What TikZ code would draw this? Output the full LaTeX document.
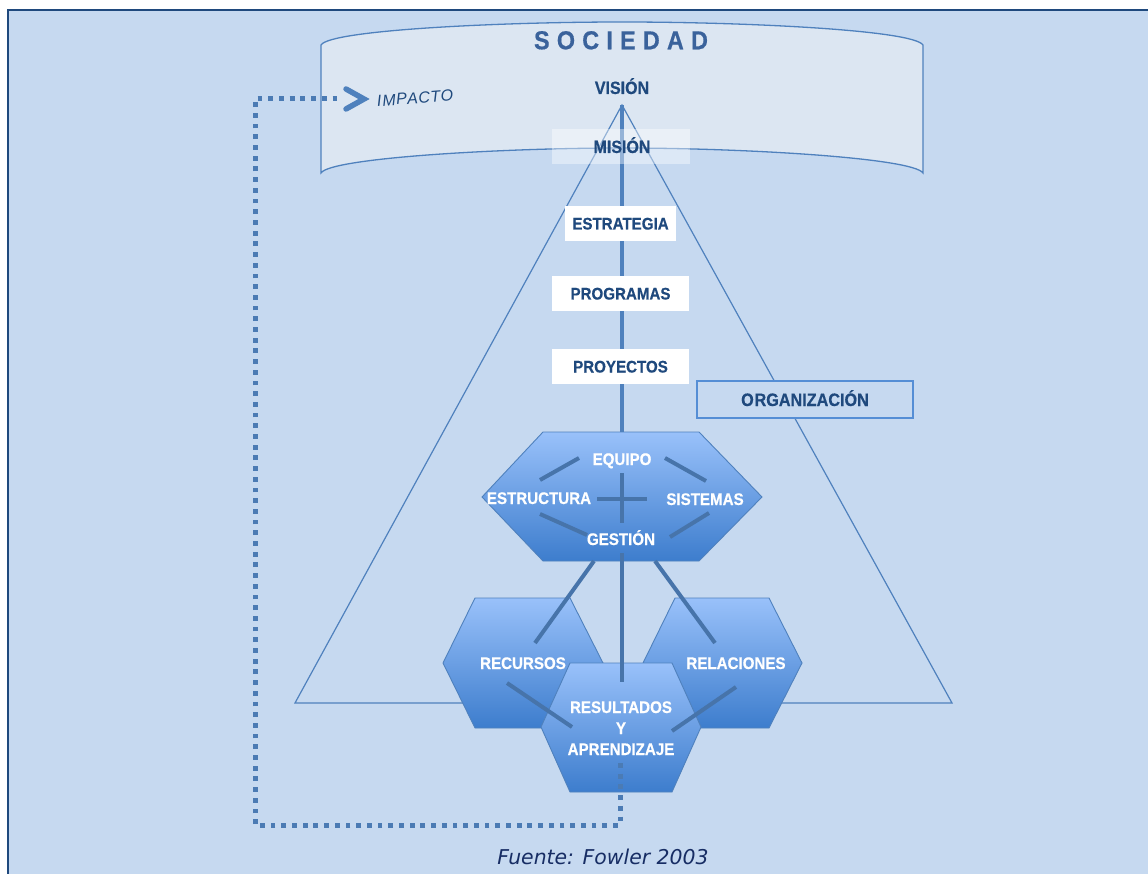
\documentclass[tikz,border=0pt]{standalone}
\usepackage{fontspec}
\setmainfont{Liberation Sans}
\newfontfamily\labfont[FakeStretch=0.9, BoldFeatures={FakeBold=0.5}]{Liberation Sans}
\newfontfamily\captfont{DejaVu Sans}
\definecolor{bgblue}{RGB}{198,217,240}
\definecolor{framec}{RGB}{31,73,125}
\definecolor{bannerc}{RGB}{220,230,242}
\definecolor{mblue}{RGB}{79,129,189}
\definecolor{navyc}{RGB}{31,73,125}
\definecolor{socc}{RGB}{58,98,155}
\definecolor{hextop}{RGB}{153,193,250}
\definecolor{hexbot}{RGB}{61,125,205}
\definecolor{orgline}{RGB}{85,142,213}
\definecolor{capc}{RGB}{23,45,100}
\newcommand\sockern{\kern7.2pt}
\tikzset{
  lbl/.style={font=\labfont\bfseries\fontsize{16.8}{18}\selectfont, text=navyc, inner sep=0pt, text height=12pt, text depth=0pt},
  wlbl/.style={lbl, text=white},
  wbox/.style={fill=white, inner sep=0pt},
  hexfill/.style={top color=hextop, bottom color=hexbot},
  hexline/.style={draw=mblue, line width=0.9pt},
  thick line/.style={draw=mblue!90!black, line width=4pt},
  dotline/.style={draw=mblue!95!black, line width=5pt, dash pattern=on 4.8pt off 5.9pt}
}
\begin{document}
\begin{tikzpicture}[x=1pt,y=-1pt]
\useasboundingbox (0,0) rectangle (1148,874);
% background
\fill[white] (0,0) rectangle (1148,874);
\fill[bgblue] (8,10) rectangle (1148,874);
\draw[framec, line width=2.2pt] (8,874) -- (8,10) -- (1148,10);

% banner
\path[fill=bannerc, draw=mblue, line width=1.3pt]
  (321,173) -- (321,45) .. controls (330,30) and (500,22) .. (622,22)
  .. controls (745,22) and (913,30) .. (923,45) -- (923,173)
  .. controls (913,158) and (745,148) .. (622,148)
  .. controls (500,148) and (330,158) .. (321,173) -- cycle;

% triangle
\coordinate (apex) at (622,105);
\coordinate (bl) at (295,703);
\coordinate (br) at (952,703);
\draw[mblue, line width=1.2pt] (apex) -- (bl) -- (br) -- cycle;
\coordinate (vend) at (622,440);
\draw[mblue, line width=3.8pt] (apex) -- (vend);

% mision box (semi transparent)
\fill[white, fill opacity=0.4] (552,129) rectangle (690,164);

% white boxes
\node[wbox, minimum width=111pt, minimum height=35pt] (estrbox) at (620.5,223.5) {};
\node[wbox, minimum width=137pt, minimum height=35pt] (progbox) at (620.5,293.5) {};
\node[wbox, minimum width=137pt, minimum height=35pt] (proybox) at (620.5,366.5) {};
\node[fill=bgblue, draw=orgline, line width=1.2pt, inner sep=0pt, minimum width=216pt, minimum height=37pt] (orgbox) at (805,399.5) {};

% big hexagon
\shade[hexfill] (543,432) -- (699,432) -- (762,497) -- (699,561) -- (543,561) -- (482,497) -- cycle;
\draw[hexline] (543,432) -- (699,432) -- (762,497) -- (699,561) -- (543,561) -- (482,497) -- cycle;
\draw[thick line] (540,480) -- (579,458);
\draw[thick line] (665,458) -- (706,481);
\draw[thick line] (540,514) -- (587,535);
\draw[thick line] (670,537) -- (709,513);
\draw[thick line] (622,473) -- (622,523);
\draw[thick line] (597,499) -- (647,499);

% lower side hexagons
\shade[hexfill] (475,598) -- (570,598) -- (603,663) -- (570,728) -- (475,728) -- (443,663) -- cycle;
\draw[hexline] (475,598) -- (570,598) -- (603,663) -- (570,728) -- (475,728) -- (443,663) -- cycle;
\shade[hexfill] (675,598) -- (769,598) -- (802,663) -- (769,728) -- (675,728) -- (643,663) -- cycle;
\draw[hexline] (675,598) -- (769,598) -- (802,663) -- (769,728) -- (675,728) -- (643,663) -- cycle;

% front hexagon
\shade[hexfill] (570,663) -- (672,663) -- (701,727) -- (672,792) -- (570,792) -- (541,727) -- cycle;
\draw[hexline] (570,663) -- (672,663) -- (701,727) -- (672,792) -- (570,792) -- (541,727) -- cycle;

% connecting lines
\draw[thick line] (594,561) -- (535,643);
\draw[thick line] (622,553) -- (622,682);
\draw[thick line] (655,561) -- (715,643);
\draw[thick line] (507,683) -- (572,727);
\draw[thick line] (736,687) -- (672,731);

% feedback dotted loop
\coordinate (fbstart) at (620,763);
\coordinate (fbc1) at (620,825);
\coordinate (fbc2) at (255,825);
\coordinate (fbc3) at (255,99);
\coordinate (fbend) at (343,99);
\draw[dotline] (fbstart) -- (fbc1) -- (fbc2) -- (fbc3) -- (fbend);
\draw[mblue, line width=5.5pt, line cap=round, line join=miter] (346,89) -- (364,99) -- (346,109);

% texts
\node[font=\labfont\bfseries\fontsize{26}{28}\selectfont, text=socc, inner sep=0pt, text height=18.6pt, text depth=0pt] (soc) at (621,40)
  {S\sockern O\sockern C\sockern I\sockern E\sockern D\sockern A\sockern D};
\node[font=\itshape\fontsize{16}{18}\selectfont, text=navyc, rotate=4.5, inner sep=0pt] (imp) at (415,98) {I\kern1pt M\kern0.5pt P\kern0.5pt A\kern0.5pt C\kern0.5pt T\kern0.5pt O};
\node[lbl, font=\labfont\bfseries\fontsize{17.8}{19}\selectfont] (vision) at (622,88) {VISIÓN};
\node[lbl, font=\labfont\bfseries\fontsize{17.8}{19}\selectfont] (mision) at (622,147) {MISIÓN};
\node[lbl] (estr) at (estrbox) {ESTRATEGIA};
\node[lbl] (prog) at (progbox) {PROGRAMAS};
\node[lbl] (proy) at (proybox) {PROYECTOS};
\node[lbl, font=\labfont\bfseries\fontsize{18}{20}\selectfont, text height=13pt] (org) at (orgbox) {O\kern0.8pt RGANIZACIÓN};
\node[wlbl] (equipo) at (622,459) {EQUIPO};
\node[wlbl] (estruc) at (539,498) {ESTRUCTURA};
\node[wlbl] (sist) at (705,499) {SISTEMAS};
\node[wlbl] (gest) at (621,539) {GESTIÓN};
\node[wlbl] (recur) at (523,663) {RECURSOS};
\node[wlbl] (relac) at (736,663) {RELACIONES};
\node[wlbl] (res1) at (621,707) {RESULTADOS};
\node[wlbl] (res2) at (621,728) {Y};
\node[wlbl] (res3) at (621,749) {APRENDIZAJE};
\node[font=\captfont\itshape\fontsize{20.4}{24}\selectfont, text=capc, inner sep=0pt] (cap) at (603,857) {Fuente: Fowler 2003};
\end{tikzpicture}
\end{document}
